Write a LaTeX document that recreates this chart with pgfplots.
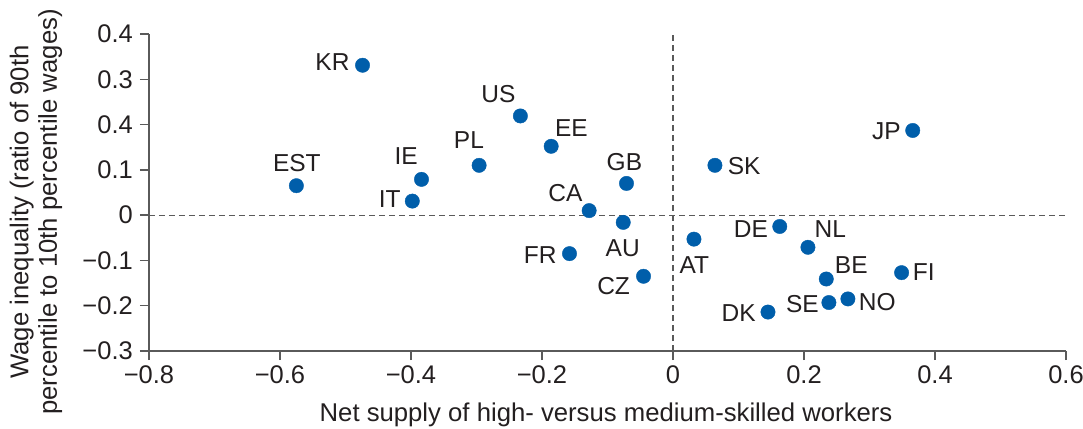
\documentclass[border=0pt]{standalone}
\usepackage{fontspec}
\setmainfont{Liberation Sans}
\usepackage{pgfplots}
\pgfplotsset{compat=1.18}
\definecolor{ptblue}{RGB}{0,94,170}
\definecolor{axgrey}{RGB}{90,90,90}
\definecolor{txt}{RGB}{35,31,32}
\begin{document}
\begin{tikzpicture}
\path[use as bounding box] (-149pt,-77pt) rectangle (934pt,351pt);
\begin{axis}[
  at={(0,0)}, anchor=south west,
  scale only axis, width=917pt, height=317pt,
  xmin=-0.8, xmax=0.6, ymin=-0.3, ymax=0.4,
  axis lines=left,
  axis line style={-, axgrey, line width=1.3pt},
  tick style={axgrey, line width=1.3pt},
  tick align=outside, major tick length=9pt,
  xtick={-0.8,-0.6,-0.4,-0.2,0,0.2,0.4,0.6},
  xticklabels={−0.8,−0.6,−0.4,−0.2,0,0.2,0.4,0.6},
  ytick={-0.3,-0.2,-0.1,0,0.1,0.2,0.3,0.4},
  yticklabels={−0.3,−0.2,−0.1,0,0.1,0.4,0.3,0.4},
  ticklabel style={font=\fontsize{25.5}{29}\selectfont, text=txt},
  xticklabel style={inner sep=5pt},
  yticklabel style={inner sep=7pt},
  xlabel={Net supply of high- versus medium-skilled workers},
  ylabel={Wage inequality (ratio of 90th\\percentile to 10th percentile wages)},
  label style={font=\fontsize{25.7}{28.5}\selectfont, text=txt},
  xlabel style={at={(axis description cs:0.4984,-0.2)}, anchor=center},
  ylabel style={at={(axis description cs:-0.1232,0.4385)}, anchor=center, align=center},
  clip=false,
]
\addplot[axgrey, line width=1.2pt, dash pattern=on 6pt off 4pt] coordinates {(0,-0.3) (0,0.4)};
\addplot[axgrey, line width=1.2pt, dash pattern=on 6pt off 4pt] coordinates {(-0.8,0) (0.6,0)};
\addplot[only marks, mark=*, mark size=7.2pt, color=ptblue,
  nodes near coords, point meta=explicit symbolic,
  visualization depends on={\thisrow{dx}\as\mydx},
  visualization depends on={\thisrow{dy}\as\mydy},
  every node near coord/.style={anchor=center, xshift=\mydx pt, yshift=\mydy pt,
    font=\fontsize{24.5}{28}\selectfont, text=txt, inner sep=0pt},
] table[x=x, y=y, meta=lab] {
x y lab dx dy
-0.474 0.331 KR -30.1 3.2
-0.233 0.219 US -22 21.5
-0.186 0.152 EE 20.2 18.7
-0.296 0.110 PL -10.2 25.2
-0.384 0.079 IE -15.4 23
-0.398 0.031 IT -22.6 2.5
-0.575 0.065 EST 0.5 22.2
-0.071 0.070 GB -2.1 21.5
-0.128 0.010 CA -23.7 18
-0.076 -0.016 AU -0.5 -25.5
-0.158 -0.085 FR -29.2 -1.1
-0.045 -0.135 CZ -29.9 -10.2
0.032 -0.053 AT 0.3 -25.5
0.064 0.110 SK 29.3 -1.2
0.163 -0.025 DE -28.9 -2.4
0.366 0.187 JP -26.4 -0.4
0.206 -0.071 NL 22.3 18.3
0.234 -0.141 BE 25 13.7
0.349 -0.127 FI 22.1 0.3
0.238 -0.193 SE -26.5 -1.7
0.267 -0.185 NO 29.3 -2.7
0.145 -0.214 DK -29.4 -1
};
\end{axis}
\end{tikzpicture}
\end{document}
